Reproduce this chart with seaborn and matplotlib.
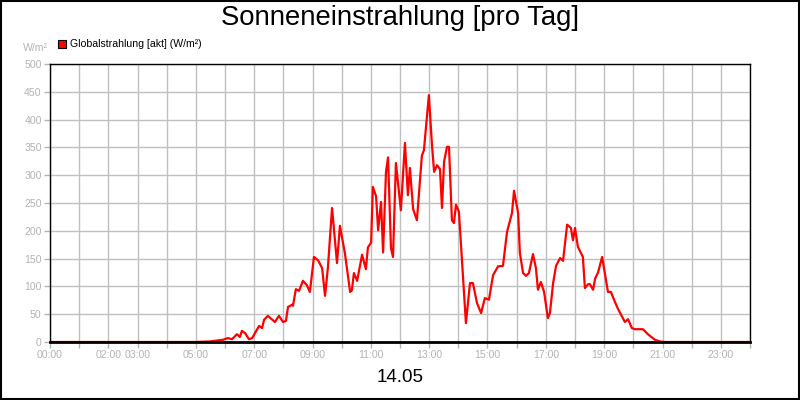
import matplotlib
matplotlib.use("Agg")
import matplotlib.pyplot as plt
import seaborn as sns
import pandas as pd
from matplotlib.patches import Rectangle

# Data (hour of day, W/m²)
hours = [0.00, 4.97, 5.49, 5.93, 6.10, 6.24, 6.41, 6.51, 6.58, 6.69, 6.82, 6.93,
         7.17, 7.27, 7.34, 7.47, 7.71, 7.85, 7.99, 8.09, 8.16, 8.30, 8.33, 8.43,
         8.54, 8.67, 8.81, 8.91, 9.05, 9.19, 9.33, 9.43, 9.53, 9.67, 9.84, 9.94,
         10.11, 10.29, 10.35, 10.42, 10.53, 10.70, 10.83, 10.90, 11.01, 11.07, 11.18, 11.25,
         11.35, 11.42, 11.52, 11.59, 11.69, 11.76, 11.86, 12.03, 12.17, 12.27, 12.34, 12.45,
         12.58, 12.75, 12.82, 12.99, 13.10, 13.17, 13.27, 13.37, 13.44, 13.51, 13.61, 13.68,
         13.78, 13.85, 13.92, 14.02, 14.26, 14.40, 14.50, 14.64, 14.78, 14.91, 15.05, 15.19,
         15.36, 15.53, 15.67, 15.84, 15.91, 16.05, 16.11, 16.22, 16.32, 16.42, 16.56, 16.66,
         16.73, 16.83, 16.94, 17.07, 17.14, 17.25, 17.35, 17.49, 17.59, 17.73, 17.86, 17.93,
         18.00, 18.10, 18.27, 18.34, 18.45, 18.51, 18.62, 18.69, 18.79, 18.93, 19.13, 19.23,
         19.37, 19.47, 19.61, 19.71, 19.82, 19.95, 20.06, 20.33, 20.50, 20.74, 20.91, 21.09,
         24.00]
globalstrahlung = [0, 0, 1, 4, 7, 5, 14, 9, 20, 16, 5, 7,
                   29, 25, 40, 47, 36, 47, 36, 38, 63, 67, 65, 95,
                   92, 110, 102, 90, 153, 147, 133, 83, 135, 241, 142, 209,
                   160, 90, 93, 124, 110, 157, 131, 170, 179, 279, 262, 201,
                   252, 161, 306, 332, 169, 153, 322, 237, 358, 264, 313, 239,
                   219, 335, 345, 444, 351, 306, 318, 311, 241, 324, 351, 351,
                   219, 214, 247, 234, 34, 106, 106, 70, 52, 79, 76, 120,
                   136, 137, 198, 232, 272, 232, 160, 124, 119, 124, 158, 133,
                   94, 108, 90, 43, 52, 106, 137, 151, 146, 211, 205, 183,
                   205, 171, 153, 97, 104, 104, 94, 114, 125, 153, 90, 90,
                   72, 60, 46, 36, 41, 25, 23, 23, 14, 4, 1, 0,
                   0]
tick_hours = list(range(0, 25))
label_hours = [0, 2, 3, 5, 7, 9, 11, 13, 15, 17, 19, 21, 23]
y_ticks = list(range(0, 501, 50))

df = pd.DataFrame({"hour": hours, "value": globalstrahlung})

sns.set_theme(style="white")
plt.rcParams["font.family"] = ["Liberation Sans", "DejaVu Sans"]

fig = plt.figure(figsize=(8, 4), dpi=100)
fig.patch.set_facecolor("white")
fig.add_artist(Rectangle((0.0008, 0.0015), 0.9984, 0.997, transform=fig.transFigure,
                         fill=False, edgecolor="black", linewidth=1.5))

ax = fig.add_axes([50 / 800, 58 / 400, 700 / 800, 278 / 400])
ax.set_facecolor("white")

sns.lineplot(data=df, x="hour", y="value", ax=ax, color="#ff0000", linewidth=1.6,
             legend=False)

ax.set_xlim(0, 24)
ax.set_ylim(0, 500)
ax.set_xticks(tick_hours)
ax.set_xticklabels([f"{h:02d}:00" if h in label_hours else "" for h in tick_hours])
ax.set_yticks(y_ticks)
ax.set_yticklabels([str(v) for v in y_ticks])
ax.grid(True, color="#c0c0c0", linewidth=1.0)
ax.set_axisbelow(True)
ax.tick_params(axis="both", colors="#b4b4b4", labelcolor="#b4b4b4", labelsize=7.6,
               length=4, width=1, direction="out", bottom=True, left=True, pad=2)
for s in ax.spines.values():
    s.set_color("black")
    s.set_linewidth(1.0)
ax.spines["bottom"].set_linewidth(2.0)
ax.set_xlabel("")
ax.set_ylabel("")

fig.text(0.5, 1 - 18 / 400, "Sonneneinstrahlung [pro Tag]", ha="center", va="center",
         fontsize=19.8, color="black")
fig.text(0.5, 1 - 378 / 400, "14.05", ha="center", va="center", fontsize=13.5,
         color="black")
fig.text(23 / 800, 1 - 48 / 400, "W/m²", ha="left", va="center", fontsize=7.6,
         color="#b4b4b4")
fig.add_artist(Rectangle((58 / 800, 1 - 48 / 400), 8 / 800, 8 / 400,
                         transform=fig.transFigure, facecolor="#ff0000",
                         edgecolor="black", linewidth=0.8))
fig.text(70 / 800, 1 - 44 / 400, "Globalstrahlung [akt] (W/m²)", ha="left", va="center",
         fontsize=7.6, color="black")

fig.savefig("out.png", dpi=100, facecolor="white")
